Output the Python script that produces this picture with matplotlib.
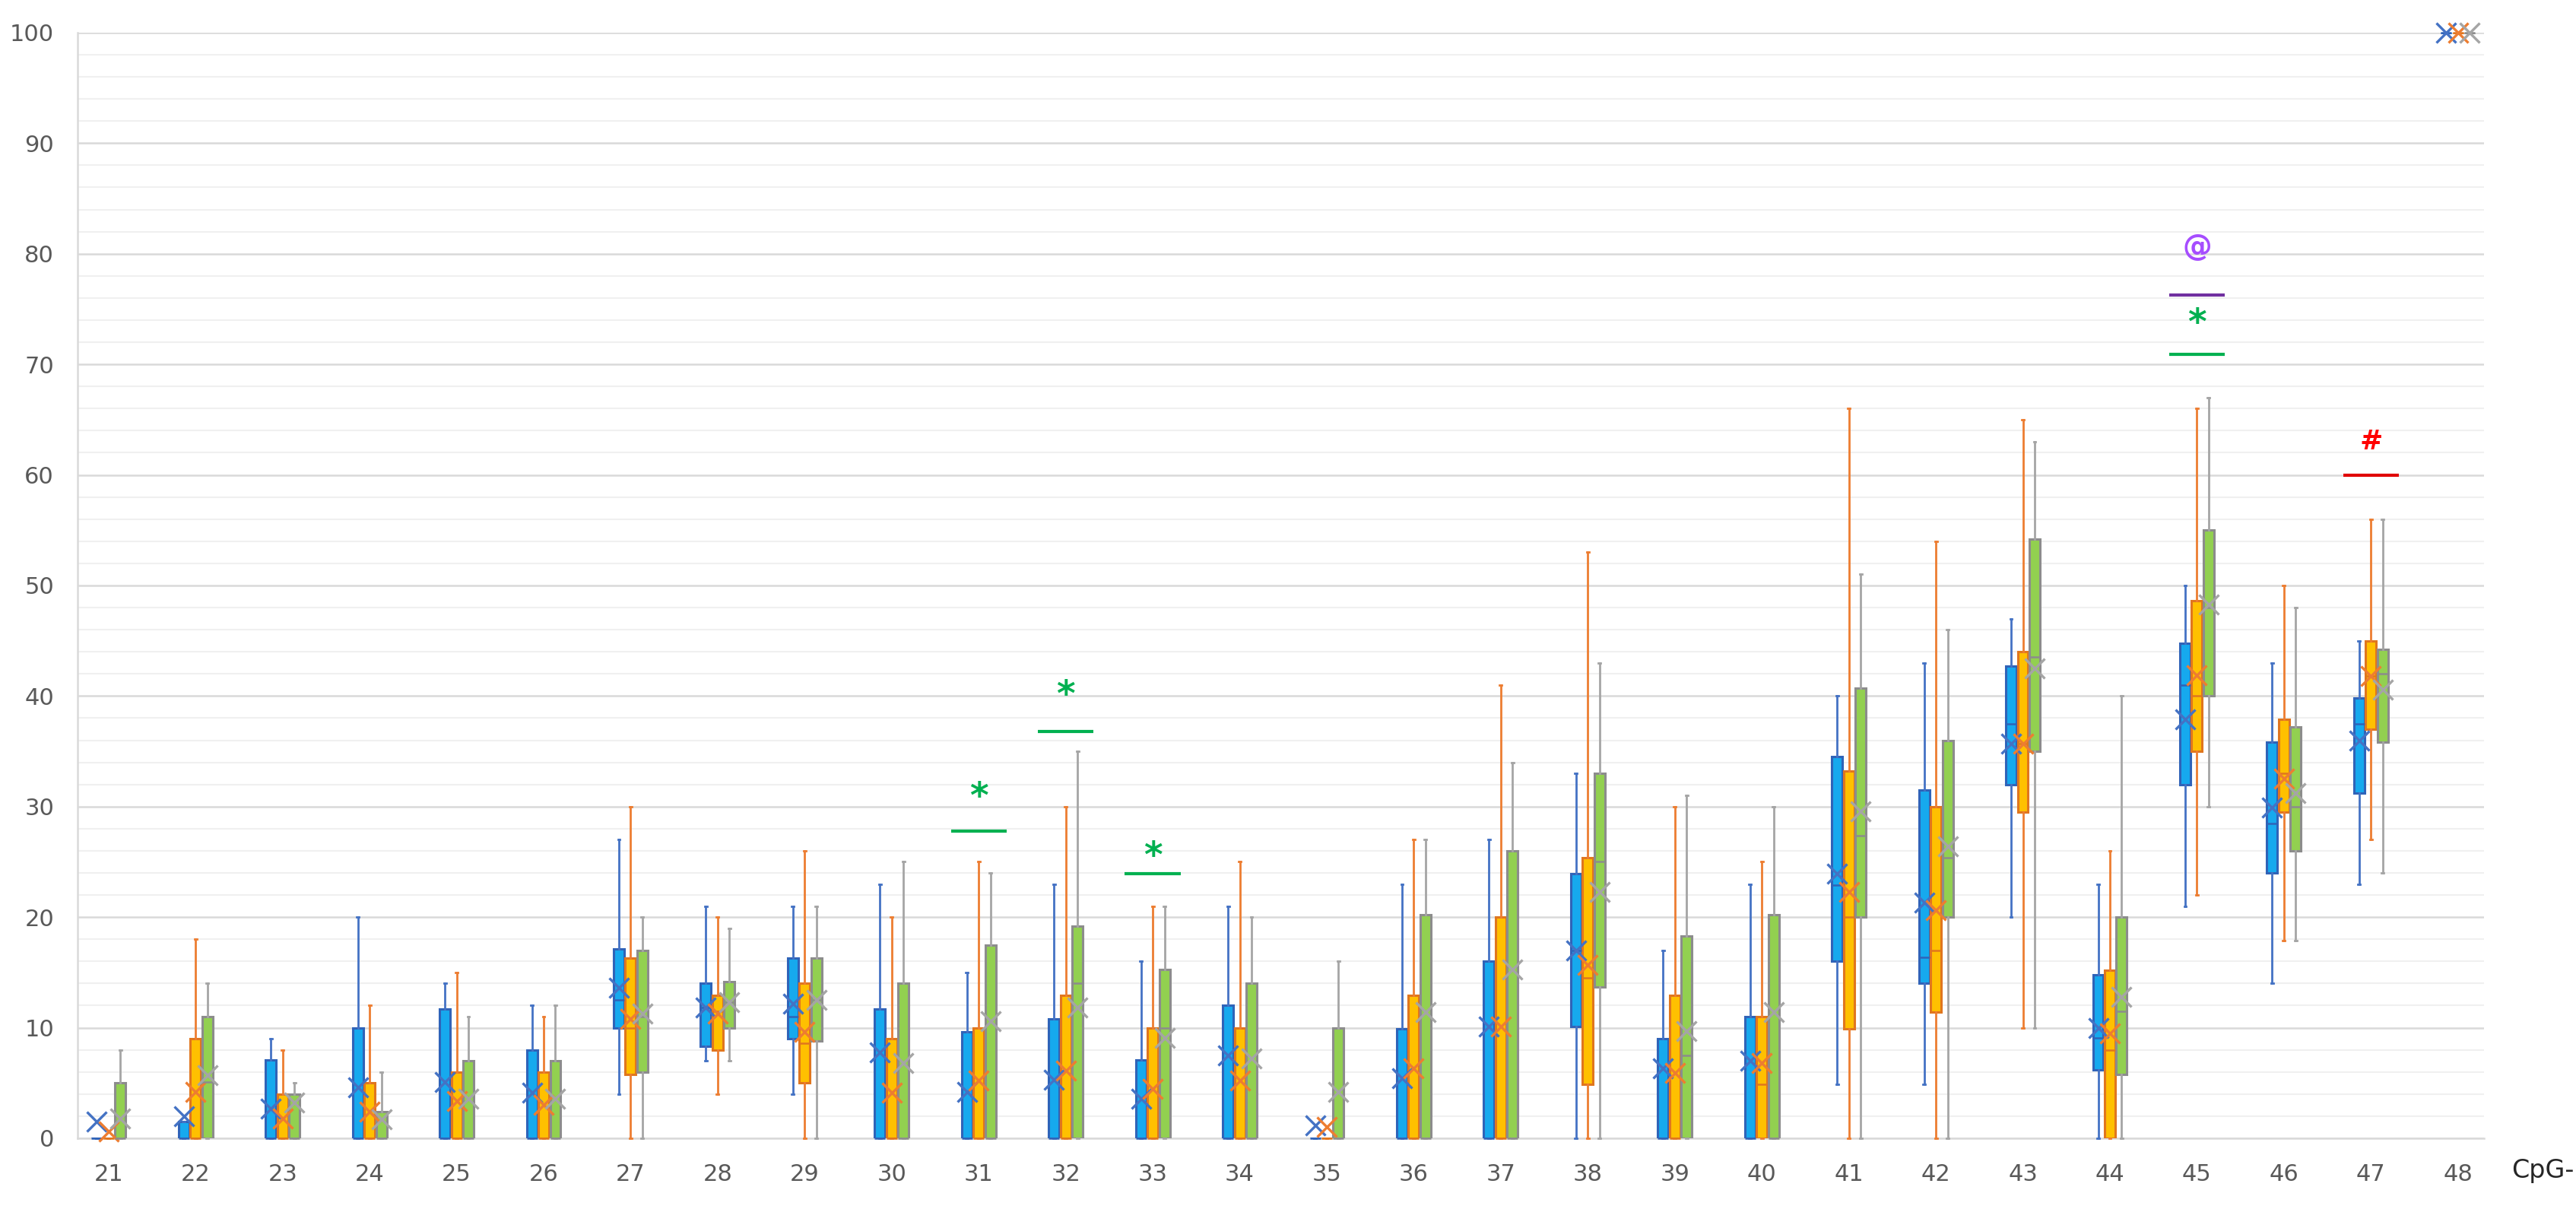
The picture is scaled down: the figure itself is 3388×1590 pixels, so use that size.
import matplotlib
matplotlib.use("Agg")
import matplotlib.pyplot as plt
from matplotlib.ticker import MultipleLocator

cpg = list(range(21, 49))

# box stats per group: lower whisker, q1, median, q3, upper whisker, mean
blue_lo  = [0, 0, 0, 0, 0, 0, 4, 7, 4, 0, 0, 0, 0, 0, 0, 0, 0, 0, 0, 0, 4.9, 4.9, 20, 0, 21, 14, 23, 100]
blue_q1  = [0, 0, 0, 0, 0, 0, 10, 8.3, 9, 0, 0, 0, 0, 0, 0, 0, 0, 10.1, 0, 0, 16, 14, 32, 6.2, 32, 24, 31.2, 100]
blue_med = [0, 0, 0, 0, 0, 0, 12.5, 11.8, 11, 0, 0, 0, 0, 0, 0, 0, 0, 17, 0, 0, 22.9, 16.4, 37.5, 9.1, 41, 28.5, 37.5, 100]
blue_q3  = [0, 1.5, 7.1, 10, 11.7, 8, 17.1, 14, 16.3, 11.7, 9.6, 10.8, 7.1, 12, 0, 9.9, 16, 23.9, 9, 11, 34.5, 31.5, 42.7, 14.8, 44.8, 35.8, 39.8, 100]
blue_hi  = [0, 1.5, 9, 20, 14, 12, 27, 21, 21, 23, 15, 23, 16, 21, 0, 23, 27, 33, 17, 23, 40, 43, 47, 23, 50, 43, 45, 100]
blue_mean = [1.5, 2.0, 2.7, 4.6, 5.1, 4.1, 13.6, 11.8, 12.2, 7.8, 4.2, 5.3, 3.6, 7.5, 1.2, 5.4, 10.1, 17, 6.3, 7, 23.9, 21.3, 35.7, 10, 37.9, 29.9, 36, 100]

orange_lo  = [0, 0, 0, 0, 0, 0, 0, 4, 0, 0, 0, 0, 0, 0, 0, 0, 0, 0, 0, 0, 0, 0, 10, 0, 22, 17.9, 27, 100]
orange_q1  = [0, 0, 0, 0, 0, 0, 5.8, 8, 5, 0, 0, 0, 0, 0, 0, 0, 0, 4.9, 0, 0, 9.9, 11.4, 29.5, 0, 35, 29.5, 37, 100]
orange_med = [0, 0, 0, 0, 0, 0, 10, 11.5, 8.6, 0, 0, 0, 0, 0, 0, 0, 0, 14.5, 0, 4.9, 20, 17, 35.7, 8, 40, 33, 41.8, 100]
orange_q3  = [0, 9, 4, 5, 6, 6, 16.3, 12.9, 14, 9, 10, 12.9, 10, 10, 0, 12.9, 20, 25.4, 12.9, 11, 33.2, 30, 44, 15.2, 48.6, 37.9, 45, 100]
orange_hi  = [0, 18, 8, 12, 15, 11, 30, 20, 26, 20, 25, 30, 21, 25, 0, 27, 41, 53, 30, 25, 66, 54, 65, 26, 66, 50, 56, 100]
orange_mean = [0.6, 4.2, 1.8, 2.4, 3.4, 3.0, 10.8, 11.3, 9.6, 4.1, 5.2, 6.1, 4.5, 5.2, 1.0, 6.3, 10.1, 15.7, 5.9, 6.8, 22.3, 20.6, 35.7, 9.5, 41.9, 32.5, 41.8, 100]

green_lo  = [0, 0, 0, 0, 0, 0, 0, 7, 0, 0, 0, 0, 0, 0, 0, 0, 0, 0, 0, 0, 0, 0, 10, 0, 30, 17.9, 24, 100]
green_q1  = [0, 0, 0, 0, 0, 0, 6, 10, 8.8, 0, 0, 0, 0, 0, 0, 0, 0, 13.7, 0, 0, 20, 20, 35, 5.8, 40, 26, 35.8, 100]
green_med = [0, 5.1, 0, 0, 0, 0, 11, 12.3, 12.5, 0, 0, 14, 10, 0, 0, 0, 0, 25, 7.5, 0, 27.4, 25.4, 43.5, 11.5, 48, 30, 42, 100]
green_q3  = [5, 11, 4, 2.4, 7, 7, 17, 14.2, 16.3, 14, 17.5, 19.2, 15.3, 14, 10, 20.2, 26, 33, 18.3, 20.2, 40.7, 36, 54.2, 20, 55, 37.2, 44.2, 100]
green_hi  = [8, 14, 5, 6, 11, 12, 20, 19, 21, 25, 24, 35, 21, 20, 16, 27, 34, 43, 31, 30, 51, 46, 63, 40, 67, 48, 56, 100]
green_mean = [1.8, 5.7, 3.2, 1.7, 3.6, 3.6, 11.3, 12.3, 12.5, 6.8, 10.6, 11.8, 9.1, 7.2, 4.2, 11.4, 15.3, 22.3, 9.7, 11.4, 29.6, 26.4, 42.5, 12.8, 48.3, 31.2, 40.6, 100]

# significance marks
sig_cpg   = [31, 32, 33, 45, 45, 47]
sig_line  = [27.8, 36.8, 23.9, 70.9, 76.3, 60]
sig_text  = [30.8, 40.0, 25.4, 73.6, 80.6, 63.0]
sig_sym   = ["*", "*", "*", "*", "@", "#"]
sig_size  = [34, 34, 34, 34, 28, 26]
sig_lcol  = ["#00B050", "#00B050", "#00B050", "#00B050", "#7030A0", "#E00000"]
sig_tcol  = ["#00B050", "#00B050", "#00B050", "#00B050", "#A64DFF", "#FF0000"]

groups = [
    (blue_lo, blue_q1, blue_med, blue_q3, blue_hi, blue_mean, "#16A9EE", "#2F63B8", "#4472C4", -0.135),
    (orange_lo, orange_q1, orange_med, orange_q3, orange_hi, orange_mean, "#FFC000", "#E0761E", "#ED7D31", 0.0),
    (green_lo, green_q1, green_med, green_q3, green_hi, green_mean, "#92D050", "#8C8C8C", "#A5A5A5", 0.135),
]

fig = plt.figure(figsize=(33.88, 15.9), dpi=100)
ax = fig.add_axes([0.030, 0.0585, 0.9343, 0.9145])

for lo, q1, med, q3, hi, mean, fill, edge, line, off in groups:
    stats = []
    for i in range(len(cpg)):
        stats.append(dict(whislo=lo[i], q1=q1[i], med=med[i], q3=q3[i],
                          whishi=hi[i], mean=mean[i], fliers=[]))
    pos = [c + off for c in cpg]
    ax.bxp(stats, positions=pos, widths=0.122, patch_artist=True,
           showmeans=True, showfliers=False, capwidths=0.025,
           boxprops=dict(facecolor=fill, edgecolor=edge, linewidth=2.2),
           medianprops=dict(color=edge, linewidth=1.8),
           whiskerprops=dict(color=line, linewidth=2),
           capprops=dict(color=line, linewidth=2),
           meanprops=dict(marker="x", markersize=19, markeredgewidth=2.4,
                          markeredgecolor=line, markerfacecolor=line),
           manage_ticks=False, zorder=3)

for i in range(len(sig_cpg)):
    c = sig_cpg[i]
    ax.plot([c - 0.32, c + 0.32], [sig_line[i], sig_line[i]], color=sig_lcol[i],
            linewidth=3, solid_capstyle="butt", zorder=4)
    ax.text(c, sig_text[i], sig_sym[i], color=sig_tcol[i], fontsize=sig_size[i],
            fontweight="bold", ha="center", va="center", zorder=4)

ax.set_xlim(20.64, 48.3)
ax.set_ylim(0, 100)
ax.set_xticks(cpg)
ax.set_xticklabels([str(c) for c in cpg])
ax.yaxis.set_major_locator(MultipleLocator(10))
ax.yaxis.set_minor_locator(MultipleLocator(2))
ax.grid(which="major", axis="y", color="#D9D9D9", linewidth=1.8, zorder=0)
ax.grid(which="minor", axis="y", color="#F0F0F0", linewidth=1.5, zorder=0)
ax.set_axisbelow(True)
ax.tick_params(axis="both", which="both", length=0, labelsize=22, labelcolor="#595959")
ax.tick_params(axis="x", pad=24)
ax.tick_params(axis="y", pad=22)
for s in ["top", "right"]:
    ax.spines[s].set_visible(False)
ax.spines["left"].set_color("#D9D9D9")
ax.spines["left"].set_linewidth(1.8)
ax.spines["bottom"].set_color("#D9D9D9")
ax.spines["bottom"].set_linewidth(1.8)

# the CpG-48 marks sit right on the top edge
for ln in ax.lines:
    ln.set_clip_on(False)

fig.text(0.975, 1 - 1540 / 1590, "CpG-", fontsize=24, color="#262626", ha="left", va="center")

fig.savefig("out.png", dpi=100, facecolor="white")
